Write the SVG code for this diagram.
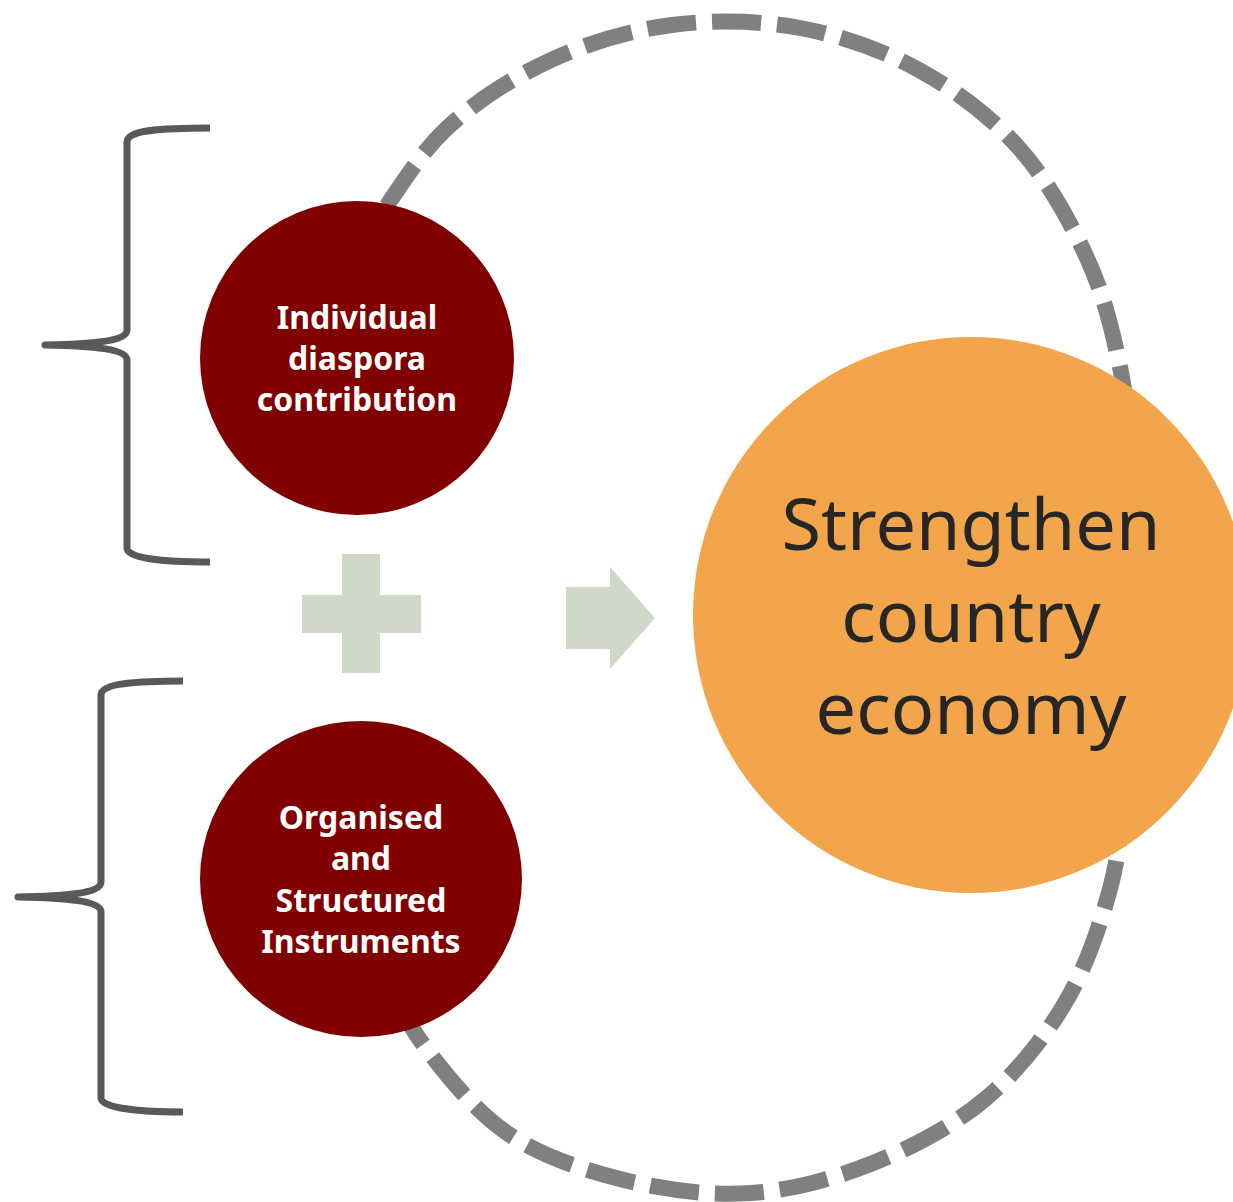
<svg xmlns="http://www.w3.org/2000/svg" width="1233" height="1202" viewBox="0 0 1233 1202">
<style>
.brace{fill:none;stroke:#595959;stroke-width:7;stroke-linecap:butt;stroke-linejoin:round}
.ring{fill:none;stroke:#808080;stroke-width:16;stroke-dasharray:49 16}
.red{fill:#800000}
.orange{fill:#F2A54A}
.sym{fill:#D0D9C8}
.lbl{font-family:"Noto Sans","Open Sans","DejaVu Sans",sans-serif;font-weight:bold;font-size:32px;fill:#FFFFFF;text-anchor:middle}
.big{font-family:"Noto Sans","Open Sans","DejaVu Sans",sans-serif;font-size:72px;fill:#262626;text-anchor:middle}
</style>
<rect width="1233" height="1202" fill="#FFFFFF"/>
<g id="connectors">
<path id="ring-top" class="ring" stroke-dashoffset="27" d="M365,237 C391.7,201.3 414,159.5 445,130 C476,100.5 513.2,77.5 551,60 C588.8,42.5 630.5,30.3 672,25 C713.5,19.7 758.8,20.5 800,28 C841.2,35.5 882.5,50 919,70 C955.5,90 991,116.7 1019,148 C1047,179.3 1070.2,221.5 1087,258 C1103.8,294.5 1112.3,330 1120,367 C1127.7,404 1129.7,441.2 1133,480"/>
<path id="ring-bottom" class="ring" stroke-dashoffset="38.5" d="M1126,770 C1122.3,809.2 1121.2,846.2 1111,885 C1100.8,923.8 1086.2,967.2 1065,1003 C1043.8,1038.8 1016,1073.3 984,1100 C952,1126.7 911.8,1147.5 873,1163 C834.2,1178.5 792.5,1190.2 751,1193 C709.5,1195.8 664.7,1190 624,1180 C583.3,1170 541,1156.3 507,1133 C473,1109.7 440.3,1068 420,1040 C399.7,1012 396.7,990 385,965"/>
<path id="brace-top" class="brace" d="M210,128 C160,128 127,130 127,142 L127,330 C127,340 100,344 45,345 C100,346 127,350 127,360 L127,548 C127,558 160,562 210,562"/>
<path id="brace-bottom" class="brace" d="M183,681 C140,681 101,683 101,695 L101,882 C101,892 75,896 18,897 C75,898 101,902 101,912 L101,1098 C101,1108 140,1112 183,1112"/>
<path id="plus" class="sym" d="M342,554 H380 V595 H421 V633 H380 V673 H342 V633 H302 V595 H342 Z"/>
<path id="arrow" class="sym" d="M566,587 H610 V567 L655,618 L610,669 V649 H566 Z"/>
</g>
<g id="node-individual">
<circle class="red" cx="357" cy="358" r="157"/>
<text class="lbl" x="357" y="329">Individual</text>
<text class="lbl" x="357" y="370">diaspora</text>
<text class="lbl" x="357" y="411">contribution</text>
</g>
<g id="node-organised">
<ellipse class="red" cx="361" cy="879" rx="161" ry="158"/>
<text class="lbl" x="361" y="829">Organised</text>
<text class="lbl" x="361" y="870">and</text>
<text class="lbl" x="361" y="912">Structured</text>
<text class="lbl" x="361" y="953">Instruments</text>
</g>
<g id="node-strengthen">
<circle class="orange" cx="971" cy="615" r="278"/>
<text class="big" x="971" y="550">Strengthen</text>
<text class="big" x="971" y="642">country</text>
<text class="big" x="971" y="734">economy</text>
</g>
</svg>
